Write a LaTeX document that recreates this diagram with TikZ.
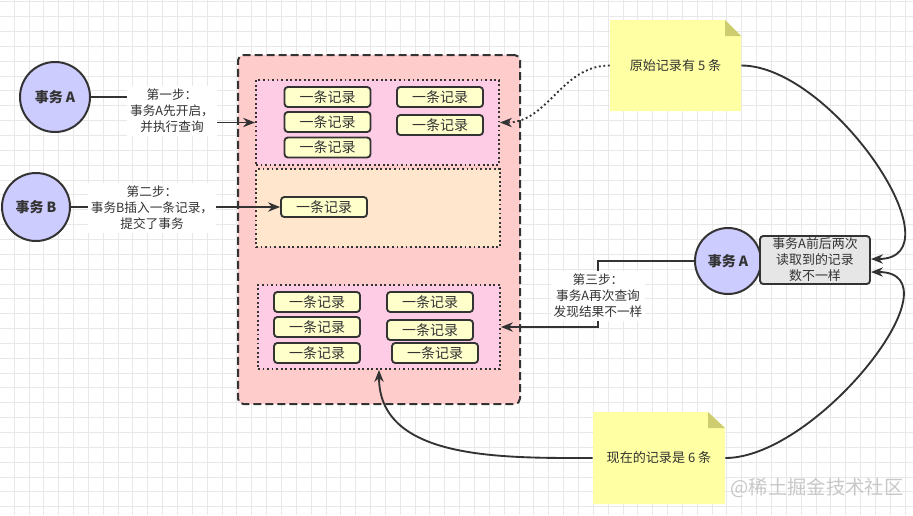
\documentclass[tikz,border=0pt]{standalone}
\usepackage{fontspec}
\setmainfont{Noto Sans CJK SC}
\usetikzlibrary{arrows.meta}

\definecolor{linec}{HTML}{333333}
\definecolor{gridc}{HTML}{E8E8E8}
\definecolor{outerfill}{HTML}{FFCCCC}
\definecolor{pinkfill}{HTML}{FFCCE6}
\definecolor{peachfill}{HTML}{FFE6CC}
\definecolor{recfill}{HTML}{FFFFCC}
\definecolor{txfill}{HTML}{CCCCFF}
\definecolor{notefill}{HTML}{FFFFA3}
\definecolor{foldfill}{HTML}{CDCD70}
\definecolor{diffill}{HTML}{E6E6E6}
\definecolor{wmark}{HTML}{C8C8C8}

\begin{document}
\begin{tikzpicture}[x=0.75pt,y=-0.75pt,
  gridline/.style={draw=gridc,line width=0.5pt},
  conn/.style={draw=linec,line width=1.4pt,-{Stealth[length=9pt,width=7pt]}},
  lbl/.style={fill=white,text=linec,align=center,inner sep=2pt,font=\fontsize{9.5}{12}\selectfont},
  txcircle/.style={circle,draw=linec,fill=txfill,line width=1.5pt,inner sep=0,text=linec,font=\fontsize{10.5}{12}\selectfont\bfseries},
  rec/.style={draw=linec,fill=recfill,line width=1.4pt,rounded corners=2.5pt,minimum width=64.5pt,minimum height=15pt,inner sep=0,text=linec,font=\fontsize{10.5}{12}\selectfont},
  setbox/.style={draw=linec,line width=1.4pt,dotted,inner sep=0},
  notetext/.style={inner sep=0,text=linec,font=\fontsize{9.8}{12}\selectfont}]
\useasboundingbox (0,0) rectangle (913,515);
\fill[white] (0,0) rectangle (913,515);
\foreach \i in {0,...,60} \draw[gridline] (14+\i*14.85,0) -- (14+\i*14.85,515);
\foreach \j in {0,...,34} \draw[gridline] (0,1.7+\j*14.85) -- (913,1.7+\j*14.85);

\node[draw=linec,fill=outerfill,line width=1.5pt,dash pattern=on 6pt off 3pt,rounded corners=4pt,minimum width=211.5pt,minimum height=261.75pt,inner sep=0] (table) at (379,229.5) {};
\node[setbox,fill=pinkfill,minimum width=182.25pt,minimum height=63.75pt] (oldset) at (377.5,122.5) {};
\node[setbox,fill=peachfill,minimum width=183pt,minimum height=58.5pt] (newset) at (378,208) {};
\node[setbox,fill=pinkfill,minimum width=181.5pt,minimum height=63pt] (nowset) at (379,327) {};

\node[rec] (ra1) at (327.5,97) {一条记录};
\node[rec] (ra2) at (327.5,122) {一条记录};
\node[rec] (ra3) at (327.5,147.5) {一条记录};
\node[rec] (ra4) at (440,97) {一条记录};
\node[rec] (ra5) at (440,125) {一条记录};
\node[rec] (rb1) at (324,207) {一条记录};
\node[rec] (rc1) at (317,302) {一条记录};
\node[rec] (rc2) at (317,327) {一条记录};
\node[rec] (rc3) at (317,353) {一条记录};
\node[rec] (rc4) at (430,302) {一条记录};
\node[rec] (rc5) at (430,330) {一条记录};
\node[rec] (rc6) at (435,353) {一条记录};

\node[txcircle,minimum size=52.5pt] (txA) at (55,97) {事务 A};
\node[txcircle,minimum size=51pt] (txB) at (36,207) {事务 B};
\node[txcircle,minimum size=49.5pt] (txA2) at (728,261) {事务 A};
\node[draw=linec,fill=diffill,line width=1.4pt,rounded corners=2.5pt,minimum width=82.5pt,minimum height=36pt,inner sep=0,align=center,text=linec,font=\fontsize{9.7}{12}\selectfont] (diff) at (815,260) {事务A前后两次\\读取到的记录\\数不一样};

\fill[notefill] (610,20) -- (725,20) -- (741,36) -- (741,111) -- (610,111) -- cycle;
\fill[foldfill] (725,20) -- (725,36) -- (741,36) -- cycle;
\node[notetext,minimum width=98.25pt,minimum height=68.25pt] (orig) at (675.5,65.5) {原始记录有 5 条};
\fill[notefill] (593,412) -- (708,412) -- (725,428) -- (725,504) -- (593,504) -- cycle;
\fill[foldfill] (708,412) -- (708,428) -- (725,428) -- cycle;
\node[notetext,minimum width=99pt,minimum height=69pt] (now) at (659,458) {现在的记录是 6 条};

\coordinate (bend1) at (175,111);
\draw[conn] (txA.east) -| (bend1) |- (oldset.west);
\node[lbl] (step1) at (172,111) {第一步：\\事务A先开启，\\并执行查询};
\draw[conn] (txB.east) -- (rb1.west);
\node[lbl] (step2) at (152,208) {第二步：\\事务B插入一条记录，\\提交了事务};
\coordinate (bend3) at (598,296);
\draw[conn] (txA2.west) -| (bend3) |- (nowset.east);
\node[lbl] (step3) at (bend3) {第三步：\\事务A再次查询\\发现结果不一样};

\draw[conn,dotted] (orig.west) to[out=180,in=0] (oldset.east);
\draw[conn] (orig.east) to[out=0,in=0] ([yshift=0.75pt]diff.east);
\draw[conn] (now.east) to[out=0,in=0] ([yshift=-9pt]diff.east);
\draw[conn] (now.west) to[out=180,in=-90] (nowset.south);

\node[text=wmark,inner sep=0,font=\fontsize{14.5}{16}\selectfont] (wm) at (817,488) {@稀土掘金技术社区};
\end{tikzpicture}
\end{document}
